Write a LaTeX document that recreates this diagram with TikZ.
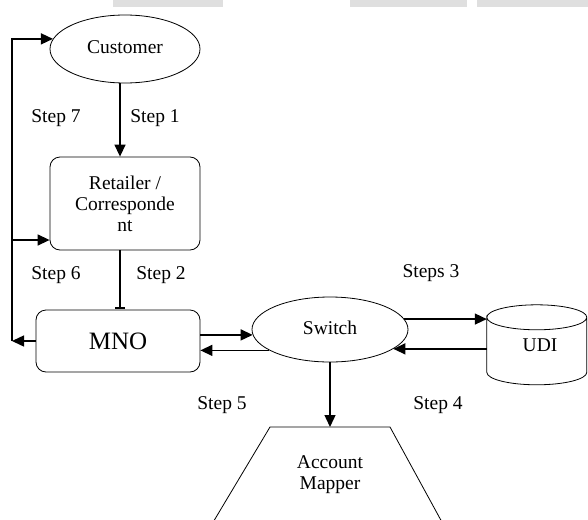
\documentclass[tikz,border=0pt]{standalone}
\usepackage{fontspec}
\setmainfont{Liberation Serif}
\usetikzlibrary{shapes.geometric,arrows.meta}

\begin{document}
\begin{tikzpicture}[x=1pt,y=-1pt,
  every node/.style={font=\fontsize{19.5}{21}\selectfont},
  arr/.style={line width=1.4pt,-{Triangle[length=12pt,width=11pt]}},
  oval/.style={draw,ellipse,line width=0.8pt},
  box/.style={draw,rounded corners=10pt,line width=0.8pt,align=center}]
\useasboundingbox (0,0) rectangle (588,519);
% scan marks at the top
\fill[gray!25] (113,0) rectangle (223,7);
\fill[gray!25] (350,0) rectangle (467,7);
\fill[gray!25] (477,0) rectangle (588,7);
\node[oval,minimum width=150pt,minimum height=68pt] (cust) at (125,49) {\raisebox{4pt}{Customer}};
\node[box,minimum width=150pt,minimum height=93pt] (ret) at (125,203.5) {Retailer /\\Corresponde\\nt};
\node[box,minimum width=164pt,minimum height=62pt,font=\fontsize{25}{28}\selectfont] (mno) at (118,341) {MNO};
\node[oval,minimum width=156pt,minimum height=65pt] (sw) at (330,329.5) {\raisebox{4pt}{Switch}};
\node[minimum width=100pt,minimum height=80pt,inner sep=0pt] (udi) at (537,345) {\hspace{6pt}UDI};
\draw[line width=0.8pt] (udi.north west) ++(0,12.5) arc[start angle=180,end angle=-180,x radius=50pt,y radius=12.5pt]
  -- ++(0,55) arc[start angle=180,end angle=360,x radius=50pt,y radius=12.5pt] -- ++(0,-55);
\coordinate (mtop) at (330,427);
\node[align=center] (mapper) at (330,475) {Account\\Mapper};
\draw[line width=0.8pt] (212,524) -- (270,427) -- (390,427) -- (443,524);
% steps
\draw[arr] ([xshift=-5pt]cust.south) -- ([xshift=-5pt]ret.north);
\draw[line width=1.4pt,-{Bar[width=10pt,line width=1.4pt]}] ([xshift=-5pt]ret.south) -- ([xshift=-5pt,yshift=1pt]ret.south |- mno.north);
\draw[arr] (mno.east |- sw.184) -- (sw.184);
\draw[arr] (sw.199) -- (mno.east |- sw.199);
\draw[arr] (sw.8) -- (udi.west |- sw.8);
\draw[arr] (udi.west |- sw.-17) -- (sw.-17);
\draw[arr] (sw.south) -- (mtop);
\coordinate (loop) at (12,341);
\draw[arr] (mno.west |- loop) -- (loop);
\draw[arr] (loop) |- (cust.172);
\draw[arr] (loop |- 0,240) -- (ret.west |- 0,240);
\node at (56,118) {Step 7};
\node at (155,118) {Step 1};
\node at (56,275) {Step 6};
\node at (161,275) {Step 2};
\node at (431,273) {Steps 3};
\node at (222,405) {Step 5};
\node at (438,405) {Step 4};
\end{tikzpicture}
\end{document}
